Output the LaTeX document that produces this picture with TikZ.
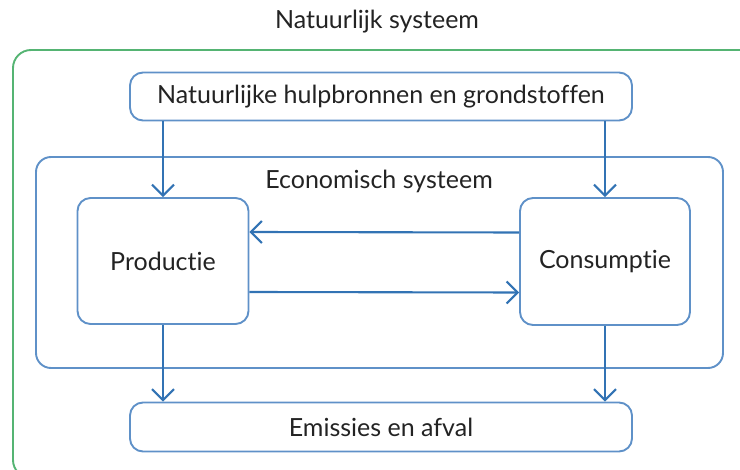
\documentclass[tikz,border=0pt]{standalone}
\usepackage{fontspec}
\setmainfont{Lato}[Ligatures={NoCommon,NoRequired,NoContextual}]
\usetikzlibrary{arrows.meta}
\definecolor{boxblue}{RGB}{95,145,200}
\definecolor{arrblue}{RGB}{50,115,180}
\definecolor{natgreen}{RGB}{85,180,115}
\definecolor{txt}{RGB}{35,35,35}
\tikzset{
  blubox/.style={draw=boxblue, line width=1.9pt, rounded corners=13pt, inner sep=0pt, text=txt},
  arr/.style={draw=arrblue, line width=2.1pt, -{Straight Barb[length=11pt,width=22pt,line width=2.1pt]}},
  lbl/.style={text=txt, inner sep=0pt}
}
\begin{document}
\begin{tikzpicture}[x=1pt,y=-1pt,font=\fontsize{25}{29}\selectfont]
\useasboundingbox (0,0) rectangle (740,470);
\begin{scope}
\clip (0,0) rectangle (740,470);
\draw[draw=natgreen, line width=1.9pt, rounded corners=18pt] (13,50) rectangle (770,478);
\end{scope}
\node[lbl] (title) at (377,22) {Natuurlijk systeem};
\node[blubox, minimum width=502pt, minimum height=48pt] (top) at (381,96.5) {Natuurlijke hulpbronnen en grondstoffen};
\node[blubox, rounded corners=15pt, minimum width=687pt, minimum height=211pt] (eco) at (379.5,262.5) {};
\node[lbl] (ecolbl) at (379,181) {Economisch systeem};
\node[blubox, minimum width=171pt, minimum height=126pt] (prod) at (163,261) {Productie};
\node[blubox, minimum width=170pt, minimum height=127pt] (cons) at (605,261.5) {Consumptie};
\node[blubox, minimum width=502pt, minimum height=49pt] (emis) at (381,427) {Emissies en afval};
\draw[arr] (top.south -| prod.north) -- (prod.north);
\draw[arr] (top.south -| cons.north) -- (cons.north);
\draw[arr] (prod.south) -- (emis.north -| prod.south);
\draw[arr] (cons.south) -- (emis.north -| cons.south);
\draw[arr] ([yshift=29pt]cons.west) -- ([yshift=29pt]prod.east);
\draw[arr] ([yshift=-31pt]prod.east) -- ([yshift=-31pt]cons.west);
\end{tikzpicture}
\end{document}
